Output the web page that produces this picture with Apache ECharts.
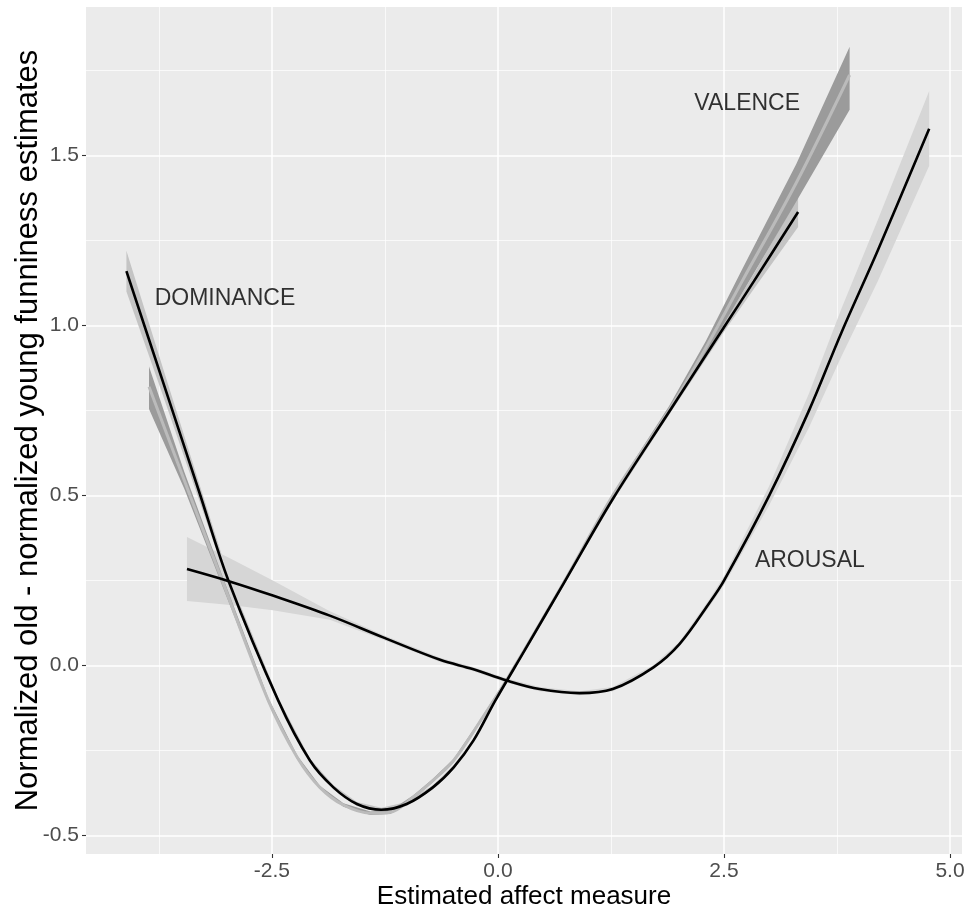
<!DOCTYPE html>
<html><head><meta charset="utf-8">
<script src="https://cdn.jsdelivr.net/npm/echarts@6/dist/echarts.min.js"></script>
<style>html,body{margin:0;padding:0;background:#fff}#chart{width:965px;height:911px}</style>
</head><body><div id="chart"></div>
<script>
// ---- tick positions ----
const xTicks = [-2.5, 0, 2.5, 5];
const xMinor = [-3.75, -1.25, 1.25, 3.75];
const yTicks = [-0.5, 0, 0.5, 1, 1.5];
const yMinor = [-0.25, 0.25, 0.75, 1.25, 1.75];

// ---- DOMINANCE (black line, light ribbon) ----
const domX  = [-4.11, -3.7, -3.31, -2.98, -2.43, -2.08, -1.82, -1.56, -1.29, -1.01, -0.72, -0.49, -0.27, -0.03, 0.3, 0.74, 1.27, 1.89, 2.5, 2.83, 3.32];
const domY  = [1.16, 0.83, 0.515, 0.249, -0.103, -0.279, -0.358, -0.407, -0.424, -0.407, -0.358, -0.299, -0.22, -0.103, 0.047, 0.248, 0.49, 0.745, 0.995, 1.13, 1.334];
const domLo = [1.10, 0.79, 0.49, 0.236, -0.111, -0.285, -0.364, -0.413, -0.43, -0.413, -0.364, -0.305, -0.226, -0.109, 0.041, 0.242, 0.483, 0.736, 0.982, 1.108, 1.29];
const domHi = [1.22, 0.87, 0.54, 0.262, -0.095, -0.273, -0.352, -0.401, -0.418, -0.401, -0.352, -0.293, -0.214, -0.097, 0.053, 0.254, 0.497, 0.754, 1.008, 1.152, 1.38];

// ---- VALENCE (light grey line, dark ribbon) ----
const valX  = [-3.86, -3.47, -3.05, -2.54, -2.22, -1.97, -1.71, -1.41, -1.19, -0.94, -0.72, -0.49, -0.2, 0.1, 0.74, 1.27, 1.89, 2.3, 2.7, 3.3, 3.89];
const valY  = [0.82, 0.545, 0.25, -0.103, -0.27, -0.358, -0.41, -0.434, -0.431, -0.387, -0.338, -0.279, -0.165, -0.04, 0.25, 0.5, 0.75, 0.935, 1.13, 1.42, 1.737];
const valLo = [0.755, 0.52, 0.235, -0.111, -0.276, -0.363, -0.415, -0.439, -0.436, -0.392, -0.343, -0.284, -0.17, -0.045, 0.245, 0.494, 0.738, 0.915, 1.095, 1.365, 1.635];
const valHi = [0.88, 0.57, 0.265, -0.095, -0.264, -0.353, -0.405, -0.429, -0.426, -0.382, -0.333, -0.274, -0.16, -0.035, 0.255, 0.506, 0.762, 0.955, 1.165, 1.475, 1.82];

// ---- AROUSAL (black line, very light ribbon) ----
const arX  = [-3.44, -2.96, -2.49, -1.86, -1.27, -0.64, -0.28, 0.1, 0.46, 0.9, 1.27, 1.72, 2.01, 2.34, 2.5, 3.0, 3.44, 3.8, 4.2, 4.77];
const arY  = [0.284, 0.247, 0.206, 0.147, 0.083, 0.017, -0.01, -0.044, -0.069, -0.081, -0.069, -0.005, 0.064, 0.185, 0.25, 0.5, 0.75, 0.98, 1.22, 1.579];
const arLo = [0.19, 0.178, 0.163, 0.135, 0.076, 0.011, -0.016, -0.05, -0.075, -0.087, -0.075, -0.011, 0.057, 0.174, 0.237, 0.472, 0.70, 0.91, 1.13, 1.47];
const arHi = [0.378, 0.315, 0.25, 0.16, 0.09, 0.023, -0.004, -0.038, -0.063, -0.075, -0.063, 0.001, 0.071, 0.196, 0.263, 0.528, 0.80, 1.05, 1.31, 1.69];

// ---- annotations ----
const labelNames = ['DOMINANCE', 'VALENCE', 'AROUSAL'];
const labelX = [-3.02, 2.757, 3.45];
const labelY = [1.079, 1.654, 0.31];

const FONT = '"Liberation Sans", Arial, sans-serif';

const ribbons = [
  { x: domX, lo: domLo, hi: domHi, color: '#C4C4C4' },
  { x: arX,  lo: arLo,  hi: arHi,  color: '#D6D6D6' },
  { x: valX, lo: valLo, hi: valHi, color: '#9B9B9B' }
];
const zip = (a, b) => a.map((v, i) => [v, b[i]]);

const X_MIN = -4.557, X_MAX = 5.133, Y_MIN = -0.554, Y_MAX = 1.937;

const chart = echarts.init(document.getElementById('chart'), null, { renderer: 'canvas' });
chart.setOption({
  animation: false,
  backgroundColor: '#FFFFFF',
  grid: { left: 86, right: 3, top: 7, bottom: 57, show: true, backgroundColor: '#EBEBEB', borderWidth: 0,
    containLabel: false, outerBoundsMode: 'none' },
  xAxis: [
    {
      type: 'value', min: X_MIN, max: X_MAX, position: 'bottom',
      name: 'Estimated affect measure', nameLocation: 'middle', nameGap: 30, nameMoveOverlap: false,
      nameTextStyle: { fontFamily: FONT, fontSize: 26, color: '#000000' },
      axisLine: { show: false, onZero: false },
      axisTick: { show: true, length: 4, customValues: xTicks, lineStyle: { color: '#333333', width: 1.1 } },
      axisLabel: { customValues: xTicks, formatter: v => Number(v).toFixed(1), margin: 7,
        fontFamily: FONT, fontSize: 21, color: '#4D4D4D' },
      splitLine: { show: true, lineStyle: { color: '#FFFFFF', width: 1.5 } }
    },
    {
      type: 'value', min: X_MIN, max: X_MAX, position: 'top',
      axisLine: { show: false, onZero: false },
      axisTick: { show: false, customValues: xMinor },
      axisLabel: { show: false, customValues: xMinor },
      splitLine: { show: true, lineStyle: { color: '#FFFFFF', width: 0.7 } }
    }
  ],
  yAxis: [
    {
      type: 'value', min: Y_MIN, max: Y_MAX, position: 'left',
      name: 'Normalized old - normalized young funniness estimates', nameLocation: 'middle', nameGap: 42,
      nameMoveOverlap: false,
      nameTextStyle: { fontFamily: FONT, fontSize: 31, color: '#000000' },
      axisLine: { show: false, onZero: false },
      axisTick: { show: true, length: 4, customValues: yTicks, lineStyle: { color: '#333333', width: 1.1 } },
      axisLabel: { customValues: yTicks, formatter: v => Number(v).toFixed(1), margin: 7,
        fontFamily: FONT, fontSize: 21, color: '#4D4D4D' },
      splitLine: { show: true, lineStyle: { color: '#FFFFFF', width: 1.5 } }
    },
    {
      type: 'value', min: Y_MIN, max: Y_MAX, position: 'right',
      axisLine: { show: false, onZero: false },
      axisTick: { show: false, customValues: yMinor },
      axisLabel: { show: false, customValues: yMinor },
      splitLine: { show: true, lineStyle: { color: '#FFFFFF', width: 0.7 } }
    }
  ],
  series: [
    {
      type: 'custom', name: 'ribbons', xAxisIndex: 0, yAxisIndex: 0, clip: true, z: 1,
      data: ribbons.map(r => [r.x[0], r.lo[0]]),
      encode: { x: 0, y: 1 },
      renderItem: function (params, api) {
        const r = ribbons[params.dataIndex];
        const pts = [];
        for (let i = 0; i < r.x.length; i++) pts.push(api.coord([r.x[i], r.hi[i]]));
        for (let i = r.x.length - 1; i >= 0; i--) pts.push(api.coord([r.x[i], r.lo[i]]));
        return { type: 'polygon', shape: { points: pts }, style: { fill: r.color } };
      },
      silent: true
    },
    {
      type: 'line', name: 'VALENCE', data: zip(valX, valY), smooth: 0.35, showSymbol: false, z: 3,
      lineStyle: { color: '#BBBBBB', width: 3 }
    },
    {
      type: 'line', name: 'DOMINANCE', data: zip(domX, domY), smooth: 0.35, showSymbol: false, z: 4,
      lineStyle: { color: '#000000', width: 2.6 }
    },
    {
      type: 'line', name: 'AROUSAL', data: zip(arX, arY), smooth: 0.35, showSymbol: false, z: 4,
      lineStyle: { color: '#000000', width: 2.6 }
    },
    {
      type: 'scatter', name: 'labels', symbolSize: 0, z: 5, silent: true,
      data: labelNames.map((n, i) => ({ value: [labelX[i], labelY[i]], name: n })),
      label: { show: true, position: 'inside', formatter: p => p.name,
        fontFamily: FONT, fontSize: 23, color: '#000000', textBorderWidth: 0 }
    }
  ]
});
</script></body></html>
